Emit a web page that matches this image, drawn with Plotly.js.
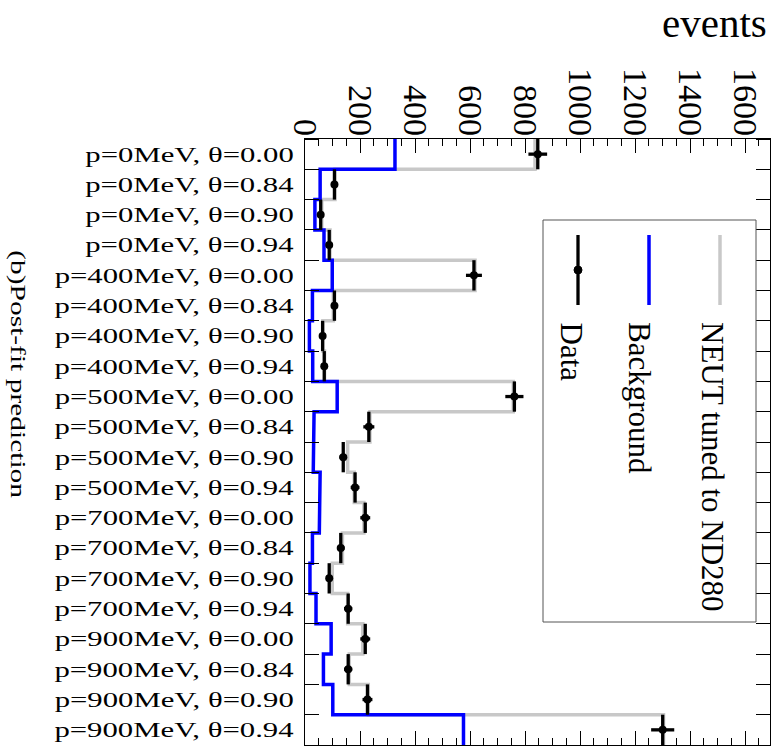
<!DOCTYPE html>
<html><head><meta charset="utf-8">
<script src="https://cdn.plot.ly/plotly-3.0.1.min.js"></script>
<style>html,body{margin:0;padding:0;background:#fff;overflow:hidden}</style>
</head><body>
<div id="chart" style="width:777px;height:746px"></div>
<script>
// ---- data ----
const categories = [
  "p=0MeV, θ=0.00", "p=0MeV, θ=0.84", "p=0MeV, θ=0.90", "p=0MeV, θ=0.94",
  "p=400MeV, θ=0.00", "p=400MeV, θ=0.84", "p=400MeV, θ=0.90", "p=400MeV, θ=0.94",
  "p=500MeV, θ=0.00", "p=500MeV, θ=0.84", "p=500MeV, θ=0.90", "p=500MeV, θ=0.94",
  "p=700MeV, θ=0.00", "p=700MeV, θ=0.84", "p=700MeV, θ=0.90", "p=700MeV, θ=0.94",
  "p=900MeV, θ=0.00", "p=900MeV, θ=0.84", "p=900MeV, θ=0.90", "p=900MeV, θ=0.94"
];
const neutValues = [836, 109, 61, 91, 618, 103, 65, 71, 757, 236, 155, 179,
                    214, 136, 99, 155, 210, 161, 230, 1303];
const backgroundValues = [327, 55, 36, 69, 99, 27, 16, 28, 117, 33, 30, 55,
                          52, 27, 18, 40, 95, 67, 101, 576];
const dataValues = [846, 107, 57, 88, 614, 107, 64, 70, 761, 232, 139, 182,
                    219, 130, 88, 157, 219, 157, 227, 1300];
const dataErrors = [34, 12, 9, 11, 29, 12, 9, 10, 33, 20, 14, 16,
                    18, 14, 11, 15, 18, 15, 18, 42];
const xTickValues = [0, 200, 400, 600, 800, 1000, 1200, 1400, 1600];
const legendLabels = ["NEUT tuned to ND280", "Background", "Data"];
const xTitle = "events";
const panelLabel = "(b)Post-fit prediction";

// ---- helpers ----
const idx = categories.map((_, i) => i);
function stepArrays(vals) {
  const xs = [], ys = [];
  vals.forEach((v, i) => { xs.push(v, v); ys.push(i - 0.5, i + 0.5); });
  return { xs, ys };
}
const neutStep = stepArrays(neutValues);
const bkgStep = stepArrays(backgroundValues);

const serif = "Liberation Serif, Times New Roman, serif";
const GRAY = "#c8c8c8", BLUE = "#0000ff";

const traces = [
  { type: "scatter", mode: "lines", x: neutStep.xs, y: neutStep.ys, name: legendLabels[0],
    line: { color: GRAY, width: 3.5 }, hoverinfo: "skip" },
  { type: "scatter", mode: "lines", x: bkgStep.xs, y: bkgStep.ys, name: legendLabels[1],
    line: { color: BLUE, width: 3.5 }, hoverinfo: "skip" },
  { type: "scatter", mode: "markers", x: dataValues, y: idx, name: legendLabels[2],
    marker: { color: "#000", size: 8 },
    error_x: { type: "data", array: dataErrors, color: "#000", thickness: 3.3, width: 0 },
    error_y: { type: "constant", value: 0.5, color: "#000", thickness: 3.3, width: 0 } }
];

// paper-coordinate helpers for legend decoration (plot area 305..770 x 139..745)
const PX = p => (p - 305) / 465, PY = p => (745 - p) / 606;

const shapes = [
  { type: "rect", xref: "paper", yref: "paper", x0: PX(543), x1: PX(756), y0: PY(622), y1: PY(220),
    line: { color: "#555", width: 1 }, fillcolor: "#fff" },
  { type: "line", xref: "paper", yref: "paper", x0: PX(720), x1: PX(720), y0: PY(305), y1: PY(235),
    line: { color: GRAY, width: 3.5 } },
  { type: "line", xref: "paper", yref: "paper", x0: PX(649), x1: PX(649), y0: PY(305), y1: PY(235),
    line: { color: BLUE, width: 3.5 } },
  { type: "line", xref: "paper", yref: "paper", x0: PX(578), x1: PX(578), y0: PY(305), y1: PY(235),
    line: { color: "#000", width: 3.3 } },
  { type: "circle", xref: "paper", yref: "paper", x0: PX(574), x1: PX(582), y0: PY(274), y1: PY(266),
    line: { color: "#000", width: 1 }, fillcolor: "#000" }
];

const annotations = [
  { text: panelLabel, xref: "paper", yref: "paper", x: PX(18), y: PY(374), xanchor: "center", yanchor: "middle",
    textangle: 90, showarrow: false, font: { family: serif, size: 20, color: "#000" } },
  { text: xTitle, xref: "paper", yref: "paper", x: PX(769), y: PY(23), xanchor: "right", yanchor: "middle",
    showarrow: false, font: { family: serif, size: 41, color: "#000" } },
  { text: legendLabels[0], xref: "paper", yref: "paper", x: PX(713), y: PY(320), xanchor: "center", yanchor: "top",
    textangle: 90, showarrow: false, font: { family: serif, size: 31, color: "#000" } },
  { text: legendLabels[1], xref: "paper", yref: "paper", x: PX(640), y: PY(320), xanchor: "center", yanchor: "top",
    textangle: 90, showarrow: false, font: { family: serif, size: 31, color: "#000" } },
  { text: legendLabels[2], xref: "paper", yref: "paper", x: PX(571), y: PY(320), xanchor: "center", yanchor: "top",
    textangle: 90, showarrow: false, font: { family: serif, size: 31, color: "#000" } }
];

const layout = {
  width: 777, height: 746,
  margin: { l: 305, r: 7, t: 139, b: 1, pad: 0 },
  paper_bgcolor: "#fff", plot_bgcolor: "#fff",
  showlegend: false,
  font: { family: serif, color: "#000" },
  xaxis: {
    side: "top", range: [0, 1690], tickmode: "array", tickvals: xTickValues,
    ticktext: xTickValues.map(String), tickangle: 90,
    ticks: "inside", ticklen: 14, tickwidth: 1, tickcolor: "#000",
    minor: { ticks: "inside", ticklen: 7, tick0: 0, dtick: 50, tickwidth: 1, tickcolor: "#000", showgrid: false },
    showline: true, linecolor: "#000", linewidth: 1, mirror: "ticks",
    showgrid: false, zeroline: false, automargin: false,
    tickfont: { family: serif, size: 34, color: "#000" }, ticklabelstandoff: -10
  },
  yaxis: {
    range: [categories.length - 0.5, -0.5], tickmode: "array", tickvals: idx, ticktext: categories,
    ticks: "",
    minor: { ticks: "inside", ticklen: 14, tick0: -0.5, dtick: 1, tickwidth: 1, tickcolor: "#000", showgrid: false },
    showline: true, linecolor: "#000", linewidth: 1, mirror: "ticks",
    showgrid: false, zeroline: false, automargin: false,
    tickfont: { family: serif, size: 21, color: "#000" }, ticklabelstandoff: 6
  },
  shapes, annotations
};

// stretch a text element along its own horizontal direction about an anchor point
function stretch(el, s, ax, ay) {
  const r = el.getBoundingClientRect();
  const px = r.left + ax * r.width, py = r.top + ay * r.height;
  const ctm = el.parentNode.getScreenCTM();
  if (!ctm) return;
  const p = new DOMPoint(px, py).matrixTransform(ctm.inverse());
  const old = el.getAttribute("transform") || "";
  el.setAttribute("transform",
    `translate(${p.x},${p.y}) scale(${s},1) translate(${-p.x},${-p.y}) ${old}`);
}

Plotly.newPlot("chart", traces, layout, { displayModeBar: false, staticPlot: true }).then(gd => {
  try {
    const labels = Array.from(gd.querySelectorAll(".ytick text"));
    const maxW = Math.max(...labels.map(t => t.getBoundingClientRect().width));
    const sy = 240 / maxW;
    labels.forEach(t => stretch(t, sy, 1, 0.5));
    const ann = gd.querySelectorAll(".annotation-text")[0];
    if (ann) {
      const h = ann.getBoundingClientRect().height;
      stretch(ann, 248 / h, 0.5, 0.5);
    }
  } catch (e) { console.log(e); }
});
</script>
</body></html>
